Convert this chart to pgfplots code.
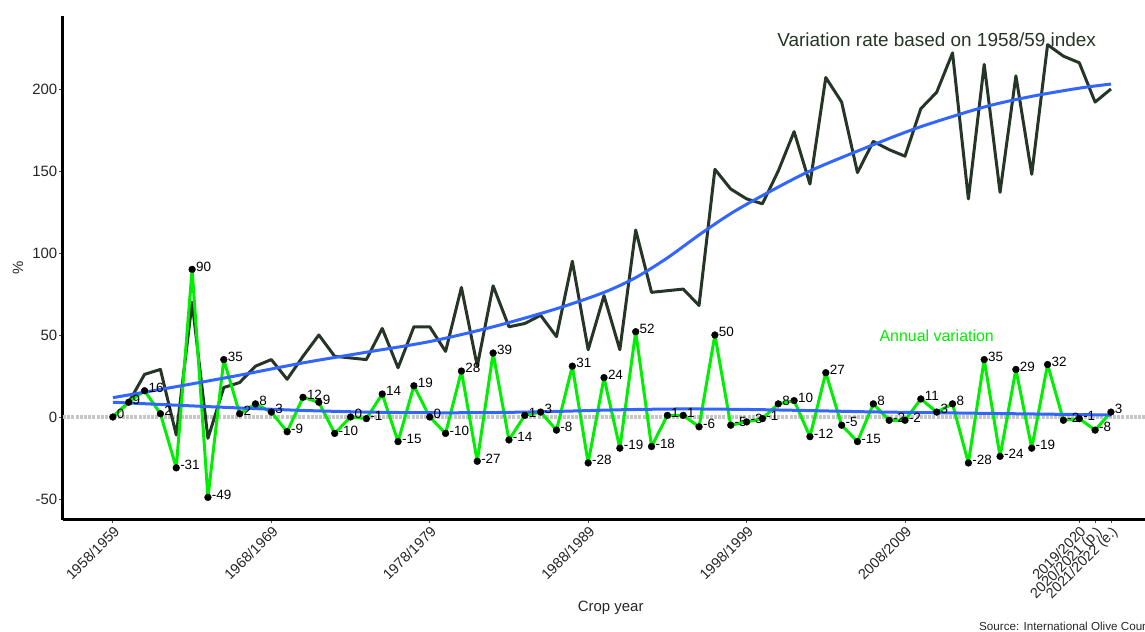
\documentclass[border=0pt]{standalone}
\usepackage{fontspec}
\setmainfont{Liberation Sans}
\usepackage{pgfplots}
\usepackage{pgfplotstable}
\pgfplotsset{compat=1.18}
\definecolor{darkline}{RGB}{38,54,38}
\definecolor{limeg}{RGB}{0,238,0}
\definecolor{smoothblue}{RGB}{51,102,255}

\pgfplotstableread{
x y
0 0
1 9
2 26
3 29
4 -11
5 70
6 -13
7 18
8 21
9 31
10 35
11 23
12 37
13 50
14 37
15 36
16 35
17 54
18 30
19 55
20 55
21 40
22 79
23 31
24 80
25 55
26 57
27 62
28 49
29 95
30 41
31 74
32 41
33 114
34 76
35 77
36 78
37 68
38 151
39 139
40 133
41 130
42 150
43 174
44 142
45 207
46 192
47 149
48 168
49 163
50 159
51 188
52 198
53 222
54 133
55 215
56 137
57 208
58 148
59 227
60 220
61 216
62 192
63 200
}\darkdata

\pgfplotstableread{
x y lbl
0 0 0
1 9 9
2 16 16
3 2 2
4 -31 -31
5 90 90
6 -49 -49
7 35 35
8 2 2
9 8 8
10 3 3
11 -9 -9
12 12 12
13 9 9
14 -10 -10
15 0 0
16 -1 -1
17 14 14
18 -15 -15
19 19 19
20 0 0
21 -10 -10
22 28 28
23 -27 -27
24 39 39
25 -14 -14
26 1 1
27 3 3
28 -8 -8
29 31 31
30 -28 -28
31 24 24
32 -19 -19
33 52 52
34 -18 -18
35 1 1
36 1 1
37 -6 -6
38 50 50
39 -5 -5
40 -3 -3
41 -1 -1
42 8 8
43 10 10
44 -12 -12
45 27 27
46 -5 -5
47 -15 -15
48 8 8
49 -2 -2
50 -2 -2
51 11 11
52 3 3
53 8 8
54 -28 -28
55 35 35
56 -24 -24
57 29 29
58 -19 -19
59 32 32
60 -2 -2
61 -1 -1
62 -8 -8
63 3 3
}\greendata

\pgfplotstableread{
x y
0 11.8
4 18.5
8 25.5
12 33
16 39.5
20 46
24 55
28 66
31 76
33 85
35 97
37 111
39 124
41 135
44 150
48 166
51 177
55 189
58 195.5
61 200.5
63 203
}\uppersmooth

\pgfplotstableread{
x y
0 9
4 7.2
8 5.5
12 4.0
16 3.0
20 2.6
24 2.7
28 3.4
32 4.4
36 4.9
40 4.6
44 3.9
48 3.1
52 2.6
56 2.1
60 1.6
63 1.2
}\lowersmooth

\begin{document}
\begin{tikzpicture}[x=1bp,y=1bp]
\begin{axis}[
  anchor=south west,
  width=1082bp, height=504bp, scale only axis,
  xmin=-3.15, xmax=65.15, ymin=-62.8, ymax=244.5,
  clip=false,
  axis x line*=bottom, axis y line*=left,
  axis line style={-, line width=3bp, black},
  tick align=outside,
  major tick length=3.5bp,
  major tick style={black!70, line width=0.9bp},
  xtick={0,10,20,30,40,50,61,62,63},
  xticklabels={1958/1959,1968/1969,1978/1979,1988/1989,1998/1999,2008/2009,2019/2020,2020/2021 (p.),2021/2022 (e.)},
  xticklabel style={rotate=45, anchor=north east, font=\fontsize{14.5}{15}\selectfont, text=black!85, inner sep=1bp},
  ytick={-50,0,50,100,150,200},
  yticklabels={-50,0,50,100,150,200},
  yticklabel style={font=\fontsize{15}{15}\selectfont, text=black!85, inner sep=2bp},
]
\addplot[gray!45, line width=4bp, dash pattern=on 3bp off 1.2bp, forget plot] coordinates {(-3.15,0) (65.15,0)};
\addplot[darkline, line width=3bp, line join=round, no markers] table[x=x,y=y] {\darkdata};
\addplot[limeg, line width=3bp, line join=round, no markers] table[x=x,y=y] {\greendata};
\addplot[smoothblue, line width=3bp, smooth, no markers] table[x=x,y=y] {\uppersmooth};
\addplot[smoothblue, line width=3bp, smooth, no markers] table[x=x,y=y] {\lowersmooth};
\addplot[only marks, mark=*, mark size=3.4bp, black,
  point meta=explicit symbolic,
  nodes near coords,
  every node near coord/.append style={anchor=west, inner sep=0pt, xshift=3.8bp, yshift=2.8bp, font=\fontsize{13.5}{14}\selectfont, text=black}
] table[x=x,y=y,meta=lbl] {\greendata};
\node[darkline, font=\fontsize{19}{20}\selectfont] at (axis cs:52,230) {Variation rate based on 1958/59 index};
\node[limeg, font=\fontsize{16}{17}\selectfont] at (axis cs:52,49.4) {Annual variation};
\end{axis}
\node[rotate=90, font=\fontsize{15}{15}\selectfont, text=black!85] at (-45,252) {\%};
\node[font=\fontsize{15}{15}\selectfont, text=black!85] at (547.7,-88.3) {Crop year};
\node[anchor=west, font=\fontsize{11.7}{12}\selectfont, text=black!85, inner sep=0pt] at (916,-106.5) {Source: International Olive Council};
\pgfresetboundingbox
\useasboundingbox (-63,-112) rectangle (1082,520);
\end{tikzpicture}
\end{document}
